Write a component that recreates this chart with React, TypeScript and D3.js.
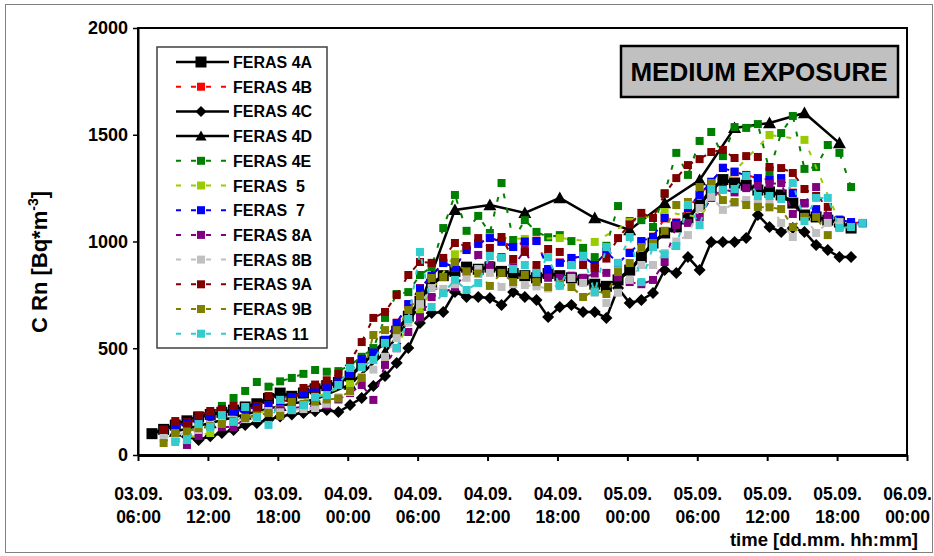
import React, { useEffect, useRef } from 'react';
import * as d3 from 'd3';

const W = 934;
const H = 556;
const FONT = '"Liberation Sans", Arial, sans-serif';

// x axis: hours after 03.09. 06:00
const xTickDays = ["03.09.", "03.09.", "03.09.", "04.09.", "04.09.", "04.09.", "04.09.", "05.09.", "05.09.", "05.09.", "05.09.", "06.09."];
const xTickHours = ["06:00", "12:00", "18:00", "00:00", "06:00", "12:00", "18:00", "00:00", "06:00", "12:00", "18:00", "00:00"];
const yTicks = [0, 500, 1000, 1500, 2000];

const legendNames = ["FERAS 4A", "FERAS 4B", "FERAS 4C", "FERAS 4D", "FERAS 4E", "FERAS  5", "FERAS  7", "FERAS 8A", "FERAS 8B", "FERAS 9A", "FERAS 9B", "FERAS 11"];

// readings in Bq/m3, hourly unless noted; first value at hour `start`
const feras4A = [100, 120, 140, 160, 178, 190, 200, 210, 225, 240,
  265, 290, 275, 290, 310, 325, 340, 370, 420, 480,
  530, 580, 650, 720, 800, 840, 860, 880, 870, 880,
  860, 850, 840, 830, 850, 840, 830, 820, 800, 790,
  820, 866, 927, 993, 1040, 1068, 1110, 1171, 1241, 1290,
  1274, 1264, 1241, 1232, 1218, 1180, 1124, 1115, 1100, 1091, 1063];
// 4B runs almost exactly with 7
const feras4B = [118, 138, 152, 163, 182, 188, 207, 213, 227, 232,
  252, 270, 292, 312, 321, 338, 382, 448, 482, 538,
  620, 705, 782, 838, 901, 878, 962, 988, 1018, 998,
  976, 998, 1004, 869, 902, 921, 932, 888, 953, 897,
  948, 1000, 1023, 1108, 1089, 1155, 1220, 1278, 1346, 1324,
  1312, 1295, 1292, 1295, 1229, 1178, 1152, 1118, 1103, 1089, 1087];
const feras4C = [85, 70, 88, 103, 117, 140, 150, 165, 180, 190,
  197, 205, 211, 201, 234, 267, 323, 370, 431, 501,
  618, 665, 670, 763, 740, 740, 735, 703, 763, 740,
  726, 646, 693, 703, 670, 670, 642, 782, 712, 726,
  759, 867, 853, 927, 867, 998, 998, 998, 1016, 1124,
  1068, 1045, 1063, 1045, 984, 960, 927, 927];
// every 3 hours
const feras4D = [110, 150, 190, 230, 260, 330, 480, 700, 1148, 1171, 1134, 1204, 1110, 1054, 1180, 1288, 1532, 1555, 1602, 1461];
const feras4E = [110, 140, 150, 170, 190, 230, 267, 300, 342, 320,
  345, 361, 380, 398, 390, 393, 420, 460, 501, 642,
  754, 763, 843, 880, 1063, 1218, 1050, 1120, 1040, 1274,
  1007, 1100, 1045, 1020, 1030, 1002, 970, 927, 980, 1166,
  1096, 1100, 1068, 1227, 1415, 1312, 1471, 1513, 1400, 1536,
  1532, 1550, 1330, 1508, 1588, 1340, 1349, 1452, 1415, 1255];
// every 3 hours
const feras5 = [70, 103, 175, 230, 270, 332, 430, 684, 940, 1020, 1012, 1016, 998, 1091, 1138, 1115, 1330, 1499, 1476, 1090];
const feras7 = [120, 140, 150, 165, 180, 190, 205, 215, 225, 234,
  250, 272, 290, 314, 319, 340, 380, 450, 480, 540,
  618, 707, 780, 840, 899, 880, 960, 990, 1016, 1000,
  974, 1000, 1002, 871, 900, 923, 930, 890, 951, 899,
  946, 1002, 1021, 1110, 1087, 1157, 1218, 1280, 1344, 1326,
  1310, 1297, 1290, 1297, 1227, 1180, 1150, 1120, 1101, 1091, 1085];
const feras8A = [47, 89, 141, 131, 131, 170, 190, 200, 210, 220,
  225, 230, 234, 260, 290, 328, 258, 422, 500, 576,
  646, 740, 760, 787, 857, 937, 890, 927, 880, 960,
  850, 830, 829, 840, 830, 850, 853, 834, 810, 800,
  820, 904, 1077, 1087, 1115, 1204, 1246, 1230, 1250, 1260,
  1270, 1274, 1129, 1180, 1255, 1119, 1068, 1068];
const feras8B = [80, 95, 105, 117, 141, 150, 164, 168, 173, 206,
  200, 210, 215, 220, 240, 270, 295, 365, 400, 460,
  548, 620, 707, 782, 778, 800, 830, 871, 853, 787,
  800, 796, 790, 780, 800, 829, 806, 760, 712, 760,
  820, 890, 890, 946, 1000, 1030, 1157, 1209, 1148, 1180,
  1194, 1185, 1180, 1087, 1021, 1115, 1040, 1087, 1091];
const feras9A = [117, 159, 141, 185, 206, 215, 230, 225, 215, 276,
  260, 248, 314, 330, 350, 380, 440, 529, 642, 670,
  749, 843, 904, 900, 923, 993, 979, 1016, 970, 1021,
  918, 951, 890, 965, 951, 890, 890, 876, 920, 1016,
  1080, 1134, 1110, 1223, 1297, 1358, 1386, 1419, 1429, 1391,
  1400, 1396, 1349, 1344, 1321, 1246, 1213, 1162];
const feras9B = [56, 103, 110, 126, 135, 145, 160, 173, 185, 197,
  183, 248, 240, 250, 260, 265, 300, 361, 562, 585,
  585, 679, 745, 829, 834, 904, 860, 850, 792, 853,
  810, 843, 810, 787, 800, 787, 740, 770, 754, 857,
  899, 974, 993, 1050, 1171, 1185, 1255, 1274, 1194, 1185,
  1171, 1162, 1160, 1152, 1068, 1115, 1115, 1030];
const feras11 = [61, 70, 145, 131, 187, 155, 225, 178, 141, 258,
  211, 234, 272, 281, 328, 408, 412, 445, 525, 501,
  637, 951, 693, 759, 820, 773, 806, 932, 923, 871,
  890, 853, 927, 792, 890, 932, 763, 974, 900, 1021,
  810, 974, 940, 979, 1171, 1077, 1246, 1241, 1246, 1307,
  1213, 1213, 1199, 1274, 1096, 1204, 1204, 1063, 1068, 1087];

const series = [
  { name: legendNames[0], values: feras4A, start: 1, step: 1, color: '#000000', dash: null, marker: 'square', size: 11, width: 3.5 },
  { name: legendNames[1], values: feras4B, start: 2, step: 1, color: '#FF0000', dash: '5,10', marker: 'square', size: 8, width: 2 },
  { name: legendNames[2], values: feras4C, start: 4, step: 1, color: '#000000', dash: null, marker: 'diamond', size: 12, width: 2.5 },
  { name: legendNames[3], values: feras4D, start: 3, step: 3, color: '#000000', dash: null, marker: 'triangle', size: 13, width: 2.5 },
  { name: legendNames[4], values: feras4E, start: 2, step: 1, color: '#008000', dash: '5,10', marker: 'square', size: 8, width: 2 },
  { name: legendNames[5], values: feras5, start: 3, step: 3, color: '#99CC00', dash: '5,10', marker: 'square', size: 8, width: 2 },
  { name: legendNames[6], values: feras7, start: 2, step: 1, color: '#0000FF', dash: '5,10', marker: 'square', size: 8, width: 2 },
  { name: legendNames[7], values: feras8A, start: 4, step: 1, color: '#800080', dash: '5,10', marker: 'square', size: 8, width: 2 },
  { name: legendNames[8], values: feras8B, start: 2, step: 1, color: '#C0C0C0', dash: '5,10', marker: 'square', size: 8, width: 2 },
  { name: legendNames[9], values: feras9A, start: 2, step: 1, color: '#800000', dash: '5,10', marker: 'square', size: 8, width: 2 },
  { name: legendNames[10], values: feras9B, start: 2, step: 1, color: '#808000', dash: '5,10', marker: 'square', size: 8, width: 2 },
  { name: legendNames[11], values: feras11, start: 3, step: 1, color: '#33CCCC', dash: '5,10', marker: 'square', size: 8, width: 2 },
];

// measurements were taken a few minutes past the full hour
const OFFSET = 0.2;

function markerPath(kind, s) {
  const h = s / 2;
  if (kind === 'diamond') return `M0,${-h}L${h},0L0,${h}L${-h},0Z`;
  if (kind === 'triangle') return `M0,${-h}L${h},${h * 0.8}L${-h},${h * 0.8}Z`;
  return `M${-h},${-h}H${h}V${h}H${-h}Z`;
}

export default function App() {
  const ref = useRef(null);

  useEffect(() => {
    const svg = d3.select(ref.current);
    svg.selectAll('*').remove();

    const left = 138, right = 907, top = 28, bottom = 455;
    const x = d3.scaleLinear().domain([0, 66]).range([left, right]);
    const y = d3.scaleLinear().domain([0, 2000]).range([bottom, top]);

    // outer chart border
    svg.append('rect')
      .attr('x', 5.5).attr('y', 4.5)
      .attr('width', W - 7).attr('height', H - 8)
      .attr('fill', '#fff')
      .attr('stroke', '#808080');

    // plot frame
    svg.append('rect')
      .attr('x', left).attr('y', top)
      .attr('width', right - left).attr('height', bottom - top)
      .attr('fill', 'none')
      .attr('stroke', '#000')
      .attr('stroke-width', 2);

    // y axis
    const yAxis = svg.append('g')
      .attr('transform', `translate(${left},0)`)
      .call(d3.axisLeft(y).tickValues(yTicks).tickSize(5).tickPadding(5).tickSizeOuter(0).tickFormat(d3.format('d')));
    yAxis.select('.domain').attr('stroke-width', 2);
    yAxis.selectAll('.tick line').attr('stroke-width', 1.5);
    yAxis.selectAll('text')
      .attr('font-family', FONT).attr('font-weight', 'bold').attr('font-size', 18).attr('fill', '#000');

    // x axis
    const xAxis = svg.append('g')
      .attr('transform', `translate(0,${bottom})`)
      .call(d3.axisBottom(x).tickValues(d3.range(0, 67, 6)).tickSize(6).tickSizeOuter(0).tickFormat(() => ''));
    xAxis.select('.domain').attr('stroke-width', 3);
    xAxis.selectAll('.tick line').attr('stroke-width', 2);
    xAxis.selectAll('.tick').each(function (d, i) {
      const t = d3.select(this);
      t.append('text').attr('y', 45).attr('fill', '#000').text(xTickDays[i]);
      t.append('text').attr('y', 68).attr('fill', '#000').text(xTickHours[i]);
    });
    xAxis.selectAll('text')
      .attr('font-family', FONT).attr('font-weight', 'bold').attr('font-size', 17.5)
      .attr('text-anchor', 'middle').attr('dy', null);

    // series
    const line = d3.line()
      .x(d => x(d.t))
      .y(d => y(d.v));

    series.forEach(s => {
      const pts = s.values.map((v, i) => ({ t: s.start + i * s.step + OFFSET, v }));
      const g = svg.append('g');
      g.append('path')
        .datum(pts)
        .attr('d', line)
        .attr('fill', 'none')
        .attr('stroke', s.color)
        .attr('stroke-width', s.width)
        .attr('stroke-dasharray', s.dash);
      g.selectAll('path.mk').data(pts).enter()
        .append('path')
        .attr('class', 'mk')
        .attr('transform', d => `translate(${x(d.t)},${y(d.v)})`)
        .attr('d', markerPath(s.marker, s.size))
        .attr('fill', s.color);
    });

    // legend
    const lg = svg.append('g');
    lg.append('rect')
      .attr('x', 157).attr('y', 47).attr('width', 170).attr('height', 301)
      .attr('fill', '#fff').attr('stroke', '#404040').attr('stroke-width', 1.5);
    series.forEach((s, i) => {
      const cy = 62 + i * 24.7;
      lg.append('line')
        .attr('x1', 176).attr('x2', 229).attr('y1', cy).attr('y2', cy)
        .attr('stroke', s.color).attr('stroke-width', s.dash ? 2 : 2.5)
        .attr('stroke-dasharray', s.dash);
      lg.append('path')
        .attr('transform', `translate(201,${cy})`)
        .attr('d', markerPath(s.marker, Math.min(s.size, 11)))
        .attr('fill', s.color);
      lg.append('text')
        .attr('x', 233).attr('y', cy + 6)
        .attr('font-family', FONT).attr('font-weight', 'bold').attr('font-size', 16)
        .style('white-space', 'pre')
        .text(s.name);
    });

    // title box
    svg.append('rect')
      .attr('x', 621).attr('y', 46).attr('width', 277).attr('height', 51)
      .attr('fill', '#C0C0C0').attr('stroke', '#000').attr('stroke-width', 2.5);
    svg.append('text')
      .attr('x', 759).attr('y', 81)
      .attr('text-anchor', 'middle')
      .attr('font-family', FONT).attr('font-weight', 'bold').attr('font-size', 26)
      .text('MEDIUM EXPOSURE');

    // axis titles
    const yt = svg.append('text')
      .attr('transform', 'translate(47,262) rotate(-90)')
      .attr('text-anchor', 'middle')
      .attr('font-family', FONT).attr('font-weight', 'bold').attr('font-size', 22);
    yt.append('tspan').text('C Rn [Bq*m');
    yt.append('tspan').attr('font-size', 14).attr('dy', -9).text('-3');
    yt.append('tspan').attr('dy', 9).text(']');

    svg.append('text')
      .attr('x', 918).attr('y', 546)
      .attr('text-anchor', 'end')
      .attr('font-family', FONT).attr('font-weight', 'bold').attr('font-size', 18.5)
      .text('time [dd.mm. hh:mm]');
  }, []);

  return (
    <svg ref={ref} width={W} height={H}
      style={{ position: 'absolute', left: 0, top: 0, background: '#fff' }} />
  );
}
